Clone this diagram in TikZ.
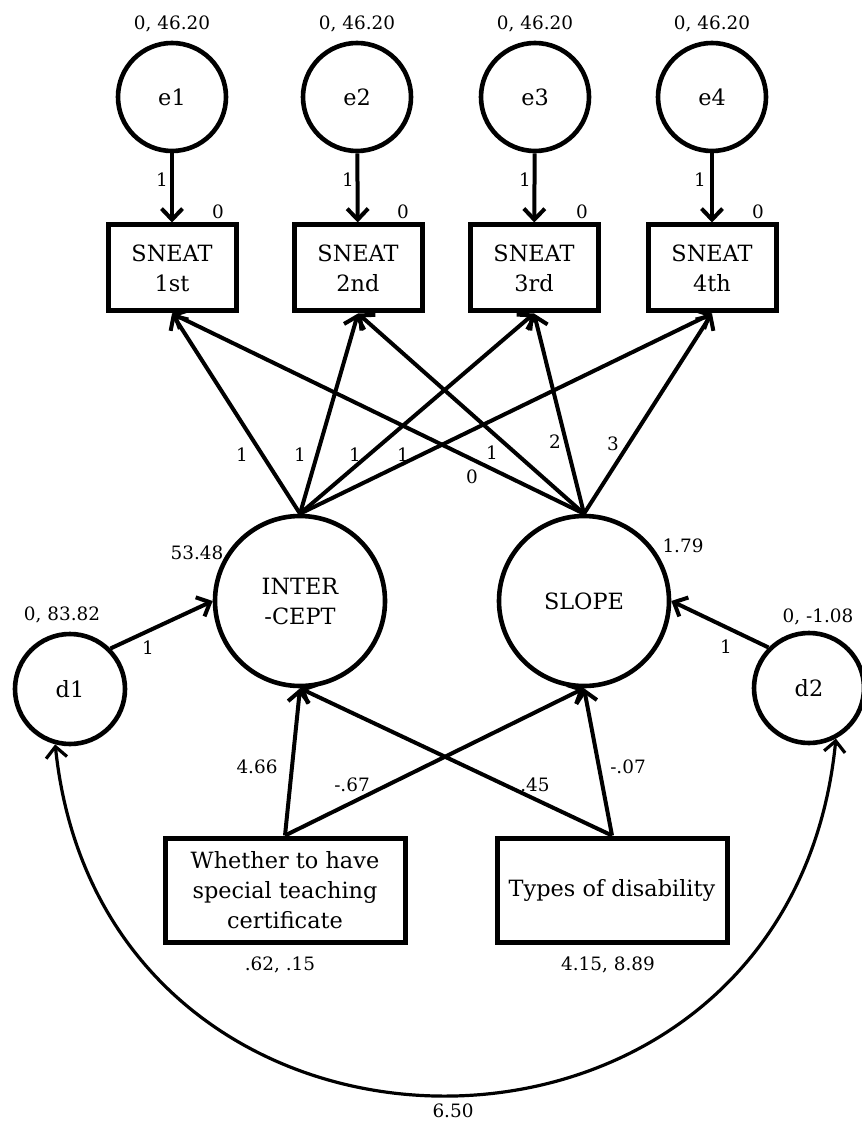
\documentclass[tikz,border=0pt]{standalone}
\usepackage{fontspec}
\setmainfont{DejaVu Serif}
\usepackage{tikz}
\usetikzlibrary{arrows.meta,shapes}
\newcommand{\nodefont}{\fontsize{11.2}{15}\selectfont}
\newcommand{\lblfont}{\fontsize{9.2}{11}\selectfont}
\tikzset{
  latent/.style={draw=black,circle,line width=2.3pt,align=center,font=\nodefont},
  obs/.style={draw=black,rectangle,line width=2.5pt,align=center,font=\nodefont},
  lbl/.style={font=\lblfont},
  arr/.style={line width=2pt,-{Straight Barb[length=5.5pt,width=10.5pt]}}
}
\begin{document}
\begin{tikzpicture}[x=0.5pt,y=-0.5pt]
\tikzstyle{every node}+=[inner sep=0pt]
\useasboundingbox (0,0) rectangle (861,1122);
\node [latent,minimum size=54pt] (e1) at (172,97) {e1};
\node [latent,minimum size=54pt] (e2) at (357,97) {e2};
\node [latent,minimum size=54pt] (e3) at (535,97) {e3};
\node [latent,minimum size=54pt] (e4) at (712,97) {e4};
\node [obs,minimum width=64pt,minimum height=43pt] (s1) at (172,268) {SNEAT\\1st};
\node [obs,minimum width=64pt,minimum height=43pt] (s2) at (358,268) {SNEAT\\2nd};
\node [obs,minimum width=64pt,minimum height=43pt] (s3) at (534,268) {SNEAT\\3rd};
\node [obs,minimum width=64pt,minimum height=43pt] (s4) at (712,268) {SNEAT\\4th};
\node [latent,minimum size=85pt] (icept) at (300,601) {INTER\\-CEPT};
\node [latent,minimum size=85pt] (slope) at (584,601) {SLOPE};
\node [latent,minimum size=55pt] (d1) at (70,689) {d1};
\node [latent,minimum size=55pt] (d2) at (809,688) {d2};
\node [obs,minimum width=120pt,minimum height=52pt] (cert) at (285,890) {Whether to have\\special teaching\\certificate};
\node [obs,minimum width=115pt,minimum height=52pt] (dis) at (612,890) {Types of disability};
\foreach \i in {1,...,4}
{
  \draw [arr] (e\i) -- (s\i);
  \draw [arr] (icept.north) -- (s\i.south);
  \draw [arr] (slope.north) -- (s\i.south);
}
\draw [arr] (d1.45) -- (icept.west);
\draw [arr] (d2.135) -- (slope.east);
\draw [arr] (cert.north) -- (icept.south);
\draw [arr] (cert.north) -- (slope.south);
\draw [arr] (dis.north) -- (slope.south);
\draw [arr] (dis.north) -- (icept.south);
\draw [line width=1.6pt,{Straight Barb[length=5.5pt,width=10.5pt]}-{Straight Barb[length=5.5pt,width=10.5pt]}] (d1.255) .. controls (104,1213) and (789,1213) .. (d2.-62);
\node [lbl] (ve1) at (172,24) {0, 46.20};
\node [lbl] (ve2) at (357,24) {0, 46.20};
\node [lbl] (ve3) at (535,24) {0, 46.20};
\node [lbl] (ve4) at (712,24) {0, 46.20};
\node [lbl] (ms1) at (218,212) {0};
\node [lbl] (ms2) at (403,212) {0};
\node [lbl] (ms3) at (582,212) {0};
\node [lbl] (ms4) at (758,212) {0};
\node [lbl] (we1) at (162,180) {1};
\node [lbl] (we2) at (348,180) {1};
\node [lbl] (we3) at (525,180) {1};
\node [lbl] (we4) at (700,180) {1};
\node [lbl] (wi1) at (242,455) {1};
\node [lbl] (wi2) at (300,455) {1};
\node [lbl] (wi3) at (355,455) {1};
\node [lbl] (wi4) at (403,455) {1};
\node [lbl] (ws1) at (472,477) {0};
\node [lbl] (ws2) at (492,453) {1};
\node [lbl] (ws3) at (555,442) {2};
\node [lbl] (ws4) at (613,444) {3};
\node [lbl] (vi) at (197,553) {53.48};
\node [lbl] (vs) at (683,546) {1.79};
\node [lbl] (vd1) at (62,615) {0, 83.82};
\node [lbl] (vd2) at (818,617) {0, -1.08};
\node [lbl] (wd1) at (148,648) {1};
\node [lbl] (wd2) at (726,647) {1};
\node [lbl] (wci) at (257,767) {4.66};
\node [lbl] (wcs) at (352,785) {-.67};
\node [lbl] (wdi) at (535,785) {.45};
\node [lbl] (wds) at (628,767) {-.07};
\node [lbl] (vc) at (280,965) {.62, .15};
\node [lbl] (vdis) at (608,965) {4.15, 8.89};
\node [lbl] (cd) at (453,1111) {6.50};
\end{tikzpicture}
\end{document}
